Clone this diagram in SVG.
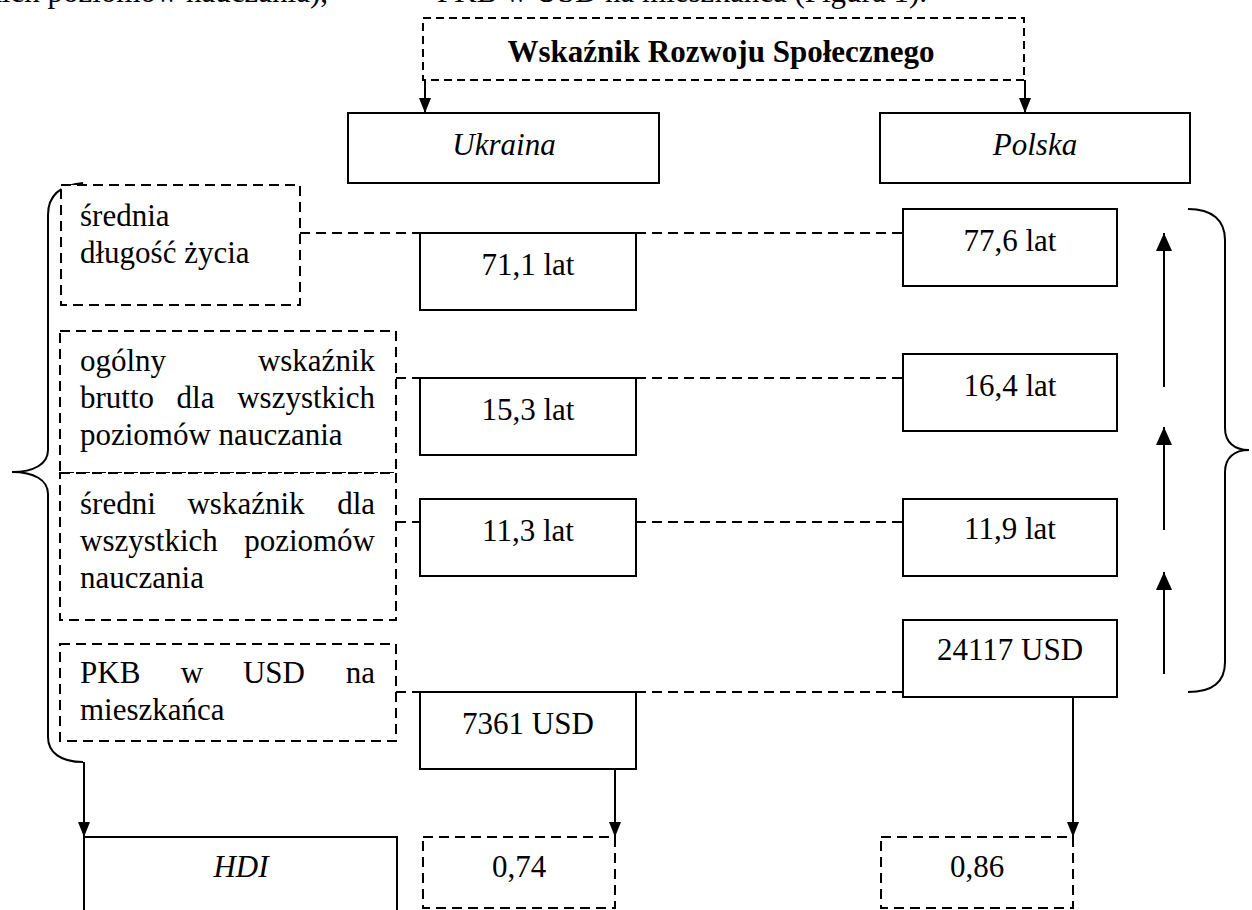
<svg xmlns="http://www.w3.org/2000/svg" width="1252" height="910" viewBox="0 0 1252 910">
<defs>
<marker id="ah" markerUnits="userSpaceOnUse" markerWidth="15" markerHeight="12" viewBox="0 0 15 12" refX="15" refY="6" orient="auto"><path d="M0,0 L15,6 L0,12 z" fill="#000"/></marker>
<marker id="ahL" markerUnits="userSpaceOnUse" markerWidth="18" markerHeight="16" viewBox="0 0 18 16" refX="18" refY="8" orient="auto"><path d="M0,0 L18,8 L0,16 z" fill="#000"/></marker>
</defs>
<style>
text{font-family:"Liberation Serif","Times New Roman",serif;font-size:31px;fill:#000}
.b{font-weight:bold}
.i{font-style:italic}
.m{text-anchor:middle}
.e{text-anchor:end}
.solid{fill:#fff;stroke:#000;stroke-width:2}
.dash{fill:#fff;stroke:#000;stroke-width:2;stroke-dasharray:10 6}
.dl{fill:none;stroke:#000;stroke-width:1.8;stroke-dasharray:10 6}
.ln{fill:none;stroke:#000;stroke-width:2}
</style>
<rect width="1252" height="910" fill="#fff"/>

<g id="page-text">
<text x="328" y="2" class="e">dla wszystkich poziomów nauczania),</text>
<text x="927" y="2" class="e">PKB w USD na mieszkańca (Figura 1).</text>
</g>

<g id="connectors">
<path class="dl" d="M300,233 H903"/>
<path class="dl" d="M396,378 H903"/>
<path class="dl" d="M396,522 H903"/>
<path class="dl" d="M396,692 H903"/>
<path class="ln" d="M425,80 V113" marker-end="url(#ah)"/>
<path class="ln" d="M1025,80 V113" marker-end="url(#ah)"/>
<path class="ln" d="M1164,387 V233" marker-end="url(#ahL)"/>
<path class="ln" d="M1164,530 V427" marker-end="url(#ahL)"/>
<path class="ln" d="M1164,674 V572" marker-end="url(#ahL)"/>
<path class="ln" d="M84,762 V837" marker-end="url(#ah)"/>
<path class="ln" d="M615,766 V837" marker-end="url(#ah)"/>
<path class="ln" d="M1073,690 V837" marker-end="url(#ah)"/>
<path class="ln" d="M83,183 C60,185 48,195 48,215 L48,450 C48,464 34,472 12,472 C34,472 48,480 48,494 L48,737 C48,752 60,762 83,762"/>
<path class="ln" d="M1188,209 C1212,209 1225,220 1225,240 L1225,428 C1225,442 1234,450 1249,450 C1234,450 1225,458 1225,472 L1225,662 C1225,682 1212,692 1188,692"/>
</g>

<g id="title">
<rect class="dash" x="423" y="18" width="601" height="62" style="stroke-dasharray:8 5"/>
<text x="721" y="62" class="b m">Wskaźnik Rozwoju Społecznego</text>
</g>
<g id="ukraina">
<rect class="solid" x="348" y="113" width="311" height="70"/>
<text x="504" y="155" class="i m">Ukraina</text>
</g>
<g id="polska">
<rect class="solid" x="880" y="113" width="310" height="70"/>
<text x="1035" y="155" class="i m">Polska</text>
</g>

<g id="ind-life">
<rect class="dash" x="61" y="185" width="239" height="120"/>
<text x="80" y="226">średnia</text>
<text x="80" y="263">długość życia</text>
</g>
<g id="ind-gross">
<rect class="dash" x="60" y="331" width="336" height="142"/>
<text x="80" y="371">ogólny</text>
<text x="375" y="371" class="e">wskaźnik</text>
<text x="80" y="408">brutto</text>
<text x="195.5" y="408" class="m">dla</text>
<text x="375" y="408" class="e">wszystkich</text>
<text x="80" y="445">poziomów nauczania</text>
</g>
<g id="ind-mean">
<rect class="dash" x="60" y="473" width="336" height="147"/>
<text x="80" y="514">średni</text>
<text x="246" y="514" class="m">wskaźnik</text>
<text x="375" y="514" class="e">dla</text>
<text x="80" y="551">wszystkich</text>
<text x="375" y="551" class="e">poziomów</text>
<text x="80" y="588">nauczania</text>
</g>
<g id="ind-gdp">
<rect class="dash" x="60" y="644" width="336" height="97"/>
<text x="80" y="683">PKB</text>
<text x="192" y="683" class="m">w</text>
<text x="274" y="683" class="m">USD</text>
<text x="375" y="683" class="e">na</text>
<text x="80" y="720">mieszkańca</text>
</g>

<g id="ua-life"><rect class="solid" x="420" y="233" width="216" height="77"/><text x="528" y="275" class="m">71,1 lat</text></g>
<g id="ua-gross"><rect class="solid" x="420" y="378" width="216" height="77"/><text x="528" y="420" class="m">15,3 lat</text></g>
<g id="ua-mean"><rect class="solid" x="420" y="499" width="216" height="77"/><text x="528" y="541" class="m">11,3 lat</text></g>
<g id="ua-gdp"><rect class="solid" x="420" y="692" width="216" height="77"/><text x="528" y="734" class="m">7361 USD</text></g>

<g id="pl-life"><rect class="solid" x="903" y="209" width="214" height="77"/><text x="1010" y="251" class="m">77,6 lat</text></g>
<g id="pl-gross"><rect class="solid" x="903" y="354" width="214" height="77"/><text x="1010" y="396" class="m">16,4 lat</text></g>
<g id="pl-mean"><rect class="solid" x="903" y="499" width="214" height="77"/><text x="1010" y="539" class="m">11,9 lat</text></g>
<g id="pl-gdp"><rect class="solid" x="903" y="620" width="214" height="77"/><text x="1010" y="660" class="m">24117 USD</text></g>

<g id="hdi">
<path class="ln" d="M84,912 V837 H397 V912"/>
<text x="241" y="877" class="i m">HDI</text>
</g>
<g id="hdi-ua">
<rect class="dash" x="423" y="837" width="192" height="71"/>
<text x="519" y="877" class="m">0,74</text>
</g>
<g id="hdi-pl">
<rect class="dash" x="881" y="837" width="192" height="71"/>
<text x="977" y="877" class="m">0,86</text>
</g>
</svg>
